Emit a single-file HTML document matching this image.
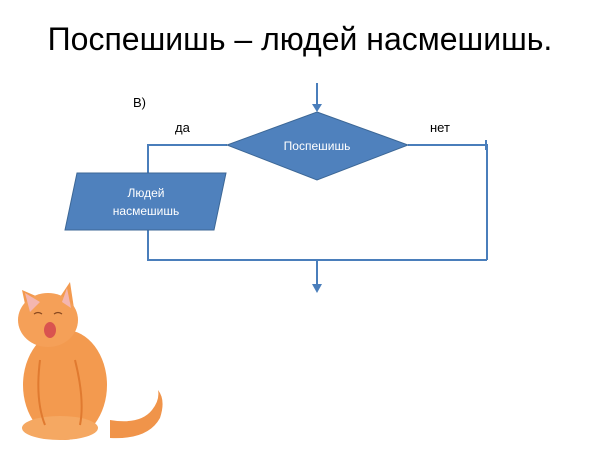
<!DOCTYPE html>
<html><head><meta charset="utf-8"><style>
html,body{margin:0;padding:0;background:#fff;}
svg{display:block;}
</style></head><body>
<svg width="600" height="450" viewBox="0 0 600 450" xmlns="http://www.w3.org/2000/svg">
<text x="300" y="50" text-anchor="middle" font-family="Liberation Sans, DejaVu Sans, sans-serif" font-size="32" fill="#000">Поспешишь – людей насмешишь.</text>
<text x="133" y="107" font-family="Liberation Sans, sans-serif" font-size="13" fill="#000">В)</text>
<text x="175" y="132" font-family="Liberation Sans, sans-serif" font-size="13" fill="#000">да</text>
<text x="430" y="132" font-family="Liberation Sans, sans-serif" font-size="13" fill="#000">нет</text>
<g stroke="#4a7ebb" stroke-width="2" fill="none">
<line x1="317" y1="83" x2="317" y2="110"/>
<polyline points="227,145 148,145 148,173"/>
<polyline points="408,145 487,145 487,260"/>
<line x1="486" y1="140" x2="486" y2="150"/>
<polyline points="148,230 148,260 487,260"/>
<line x1="317" y1="260" x2="317" y2="290"/>
</g>
<polygon points="312,104 317,112 322,104" fill="#4a7ebb"/>
<polygon points="312,284 317,293 322,284" fill="#4a7ebb"/>
<polygon points="317,112 408,145 317,180 227,145" fill="#4f81bd" stroke="#3c6796" stroke-width="1"/>
<text x="317" y="150" text-anchor="middle" font-family="Liberation Sans, sans-serif" font-size="12" fill="#fff">Поспешишь</text>
<polygon points="77,173 226,173 214,230 65,230" fill="#4f81bd" stroke="#3c6796" stroke-width="1"/>
<text x="146" y="197" text-anchor="middle" font-family="Liberation Sans, sans-serif" font-size="12" fill="#fff">Людей</text>
<text x="146" y="215" text-anchor="middle" font-family="Liberation Sans, sans-serif" font-size="12" fill="#fff">насмешишь</text>
<!-- cat -->
<g>
<path d="M110,420 Q140,425 152,410 Q160,400 158,390 Q166,400 160,418 Q148,440 110,438 Z" fill="#f0944a"/>
<ellipse cx="65" cy="385" rx="42" ry="55" fill="#f39a4f"/>
<ellipse cx="60" cy="428" rx="38" ry="12" fill="#f5a862"/>
<path d="M22,290 L28,318 L45,300 Z" fill="#f39a4f"/>
<path d="M70,282 L58,300 L75,315 Z" fill="#f39a4f"/>
<ellipse cx="48" cy="320" rx="30" ry="27" fill="#f5a058"/>
<path d="M25,293 L30,312 L40,302 Z" fill="#f4b6b0"/>
<path d="M67,288 L62,302 L71,308 Z" fill="#f4b6b0"/>
<ellipse cx="50" cy="330" rx="6" ry="8" fill="#d9534f"/>
<path d="M34,314 q4,-3 8,0 M54,314 q4,-3 8,0" stroke="#8a4a20" stroke-width="1.2" fill="none"/>
<path d="M40,360 Q35,400 45,425 M75,360 Q85,400 80,425" stroke="#e07a30" stroke-width="2" fill="none"/>
</g>
</svg>
</body></html>
